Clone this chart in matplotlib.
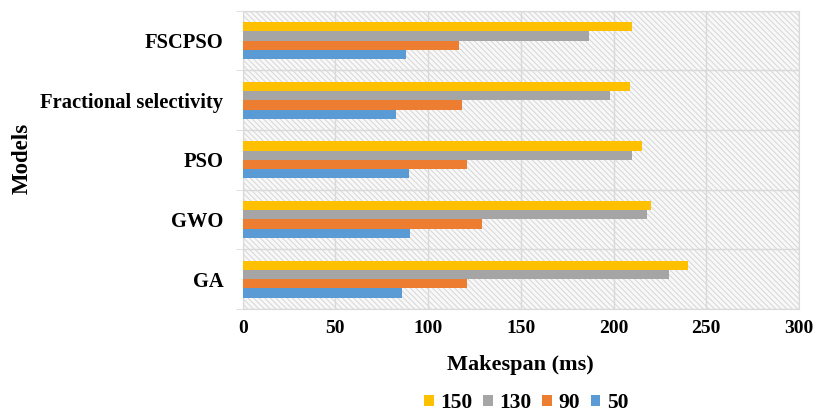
import matplotlib.pyplot as plt
import numpy as np
from matplotlib.patches import Rectangle, Patch

# Makespan (ms) per model, for each task count
models = ["GA", "GWO", "PSO", "Fractional selectivity", "FSCPSO"]
series = ["150", "130", "90", "50"]
ms_150 = [240, 220, 215.5, 209, 210]
ms_130 = [230, 218, 210, 198, 186.5]
ms_90 = [121, 129, 121, 118.5, 116.5]
ms_50 = [86, 90, 89.5, 82.5, 88]
colors = ["#FFC000", "#A5A5A5", "#ED7D31", "#5B9BD5"]

plt.rcParams['font.family'] = ['Liberation Serif', 'DejaVu Serif']
plt.rcParams['font.weight'] = 'bold'
plt.rcParams['hatch.linewidth'] = 0.7

fig = plt.figure(figsize=(8.17, 4.18), dpi=100)
ax = fig.add_axes([0.297, 0.261, 0.681, 0.713])

# hatched plot area
ax.add_patch(Rectangle((0, 0), 1, 1, transform=ax.transAxes, facecolor='#f8f8f8',
                       edgecolor='#d6d6d6', hatch='\\\\\\\\\\\\', lw=0, zorder=0))

y = np.arange(len(models))
h = 0.155
values = [ms_150, ms_130, ms_90, ms_50]
offsets = [1.5 * h, 0.5 * h, -0.5 * h, -1.5 * h]
for vals, off, c in zip(values, offsets, colors):
    ax.barh(y + off, vals, height=h, color=c, zorder=3)

ax.set_xlim(0, 300)
ax.set_ylim(-0.5, len(models) - 0.5)
ax.set_xticks(np.arange(0, 301, 50))
ax.set_yticks(y)
ax.set_yticklabels(models)
ax.set_yticks(np.arange(-0.5, len(models), 1), minor=True)

ax.grid(axis='x', color='#d9d9d9', lw=1, zorder=1)
ax.grid(axis='y', which='minor', color='#d9d9d9', lw=1, zorder=1)
ax.tick_params(axis='y', which='major', length=0, labelsize=14.8, pad=14)
ax.tick_params(axis='y', which='minor', length=5, color='#d9d9d9')
ax.tick_params(axis='x', length=0, labelsize=14, pad=8)
for s in ax.spines.values():
    s.set_color('#d9d9d9')

ax.set_xlabel("Makespan (ms)", fontsize=16, fontweight='bold', labelpad=13)
ax.set_ylabel("Models", fontsize=16.5, fontweight='bold')
ax.yaxis.set_label_coords(-0.378, 0.505)

handles = [Patch(facecolor=c) for c in colors]
fig.legend(handles, series, loc='center', bbox_to_anchor=(0.644, 0.035), ncol=4,
           frameon=False, fontsize=15.5, handlelength=0.45, handleheight=0.45,
           handletextpad=0.3, columnspacing=0.5)

fig.savefig("out.png", dpi=100)
